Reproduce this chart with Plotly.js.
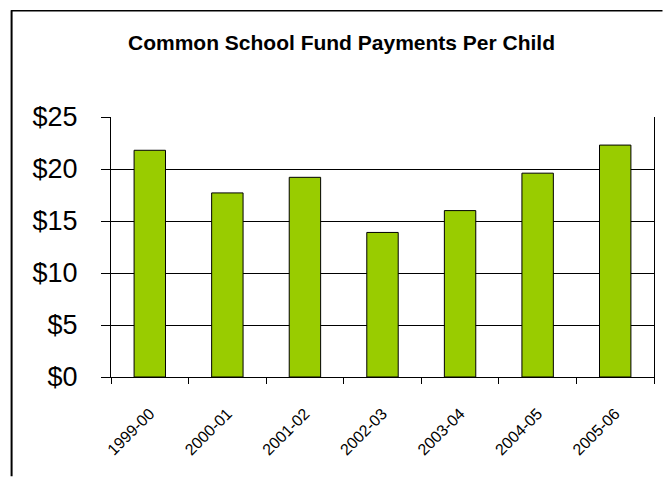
<!DOCTYPE html>
<html>
<head>
<meta charset="utf-8">
<script src="https://cdn.plot.ly/plotly-3.0.1.min.js"></script>
<style>
html,body{margin:0;padding:0;background:#fff;}
#chart{width:663px;height:477px;}
</style>
</head>
<body>
<div id="chart"></div>
<script>
const years = ["1999-00","2000-01","2001-02","2002-03","2003-04","2004-05","2005-06"];
const payments = [21.8, 17.7, 19.2, 13.9, 16.0, 19.6, 22.3];
const yTicks = [0, 5, 10, 15, 20, 25];
const chartTitle = "Common School Fund Payments Per Child";

const W = 663, H = 477;
const L = 111, R = 654.5, T = 117, B = 377.5;
const px = x => (x - L) / (R - L);
const py = y => (B - y) / (B - T);

const trace = {
  type: 'bar',
  x: years,
  y: payments,
  marker: {color: '#99CC00', line: {color: '#000000', width: 1}},
  hoverinfo: 'x+y'
};

const layout = {
  width: W, height: H,
  margin: {l: L, r: W - R, t: T, b: H - B, pad: 0},
  paper_bgcolor: '#ffffff',
  plot_bgcolor: '#ffffff',
  showlegend: false,
  bargap: 0.595,
  font: {family: 'Liberation Sans, Arial, sans-serif', color: '#000'},
  title: {
    text: '<b>' + chartTitle + '</b>',
    font: {family: 'Liberation Sans, Arial, sans-serif', size: 21, color: '#000'},
    x: 341.5 / W, xanchor: 'center', xref: 'container',
    y: 1 - 43 / H, yanchor: 'middle', yref: 'container'
  },
  xaxis: {
    type: 'category',
    showline: true, linecolor: '#000', linewidth: 1,
    mirror: false,
    ticks: 'outside', ticklen: 6, tickcolor: '#000', tickwidth: 1,
    tickson: 'boundaries',
    tickangle: -45,
    ticklabelstandoff: 20,
    tickfont: {size: 16, color: '#000'},
    showgrid: false,
    fixedrange: true
  },
  yaxis: {
    range: [0, 25],
    tickvals: yTicks,
    ticktext: yTicks.map(v => '$' + v),
    showline: true, linecolor: '#000', linewidth: 1,
    mirror: true,
    ticks: 'outside', ticklen: 9, tickcolor: '#000', tickwidth: 1,
    ticklabelstandoff: 18,
    tickfont: {size: 27, color: '#000'},
    showgrid: true, gridcolor: '#000', gridwidth: 1,
    zeroline: false,
    fixedrange: true
  },
  shapes: [
    {type: 'line', xref: 'paper', yref: 'paper', x0: px(11), x1: px(663), y0: py(10.5), y1: py(10.5), line: {color: '#000', width: 1.5}},
    {type: 'line', xref: 'paper', yref: 'paper', x0: px(11.5), x1: px(11.5), y0: py(10), y1: py(477), line: {color: '#000', width: 2}}
  ]
};

Plotly.newPlot('chart', [trace], layout, {displayModeBar: false, staticPlot: true});
</script>
</body>
</html>
